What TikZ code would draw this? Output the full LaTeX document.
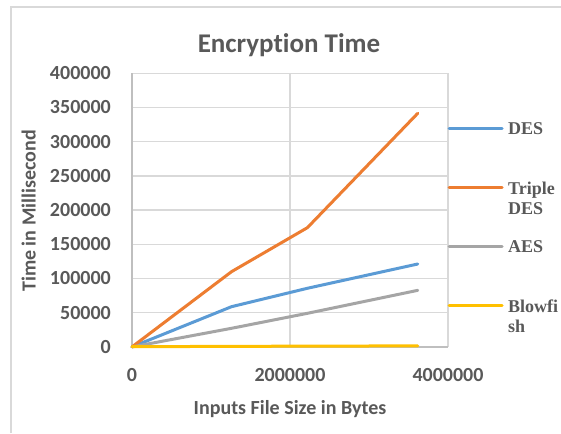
\documentclass[tikz,border=0pt]{standalone}
\usepackage{fontspec}
\newfontfamily\chartfont{Carlito}[BoldFont={Carlito Bold}, Ligatures=CommonOff]
\newfontfamily\legfont{Liberation Serif}
\definecolor{txt}{HTML}{595959}
\definecolor{gridc}{HTML}{D9D9D9}
\definecolor{axisc}{HTML}{BFBFBF}
\definecolor{desc}{HTML}{5B9BD5}
\definecolor{tdesc}{HTML}{ED7D31}
\definecolor{aesc}{HTML}{A5A5A5}
\definecolor{bfc}{HTML}{FFC000}
\tikzset{
  ticklab/.style={inner sep=0pt, text=txt, font=\chartfont\bfseries\fontsize{20}{24}\selectfont},
  axtitle/.style={inner sep=0pt, text=txt, font=\chartfont\bfseries\fontsize{20}{24}\selectfont},
  charttitle/.style={inner sep=0pt, text=txt, font=\chartfont\bfseries\fontsize{27}{31}\selectfont},
  legtext/.style={inner sep=0pt, anchor=base west, text=txt, font=\legfont\bfseries\fontsize{18}{21}\selectfont},
  gridline/.style={draw=gridc, line width=1.3pt},
  axisline/.style={draw=axisc, line width=1.3pt},
  series/.style={line width=3pt, line cap=round, line join=round},
  frameline/.style={draw=gridc, line width=2pt}
}
\begin{document}
\begin{tikzpicture}[x=1pt,y=-1pt]
\useasboundingbox (0,0) rectangle (561,433);
\fill[white] (0,0) rectangle (561,433);
% outer frame
\coordinate (fbl) at (11,433);
\coordinate (ftl) at (11,7);
\coordinate (ftr) at (561,7);
\draw[frameline] (fbl) -- (ftl) -- (ftr);
% grid
\foreach \i in {1,...,8} {
  \draw[gridline] (132,{346.9-34.2*\i}) -- (448,{346.9-34.2*\i});
}
\draw[gridline] (290,73.3) -- (290,346.9);
\draw[gridline] (448,73.3) -- (448,346.9);
\draw[axisline] (132,73.3) -- (132,346.9) -- (448,346.9);
% y tick labels
\foreach \v [count=\i from 0] in {0,50000,100000,150000,200000,250000,300000,350000,400000} {
  \node[ticklab, anchor=east] (yt\i) at (111,{346.9-34.2*\i}) {\v};
}
% x tick labels
\node[ticklab, anchor=base] (xt0) at (132,381.7) {0};
\node[ticklab, anchor=base] (xt1) at (290,381.7) {2000000};
\node[ticklab, anchor=base] (xt2) at (448,381.7) {4000000};
% titles
\node[charttitle, anchor=base] (title) at (289,53) {Encryption Time};
\node[axtitle, anchor=base] (xtitle) at (290,414.3) {Inputs File Size in Bytes};
\node[axtitle, anchor=base, rotate=90] (ytitle) at (35.7,211) {Time in Millisecond};
% data series
\begin{scope}[shift={(132,346.9)}, x=79pt, y=0.684pt]
  \draw[series, desc] (0,0) -- (1.26,58.8) -- (2.22,85.7) -- (3.617,121.2);
  \draw[series, tdesc] (0,0) -- (1.26,110) -- (2.22,174.3) -- (3.617,341.5);
  \draw[series, aesc] (0,0) -- (1.26,27.2) -- (2.22,49.1) -- (3.617,82.7);
  \draw[series, bfc] (0,0.3) -- (1.26,0.8) -- (2.22,1.1) -- (3.617,1.5);
\end{scope}
% legend
\coordinate (l1a) at (449,128.3); \coordinate (l1b) at (502,128.3);
\coordinate (l2a) at (449,187.3); \coordinate (l2b) at (502,187.3);
\coordinate (l3a) at (449,246.7); \coordinate (l3b) at (502,246.7);
\coordinate (l4a) at (449,305.7); \coordinate (l4b) at (502,305.7);
\draw[series, desc] (l1a) -- (l1b);
\draw[series, tdesc] (l2a) -- (l2b);
\draw[series, aesc] (l3a) -- (l3b);
\draw[series, bfc] (l4a) -- (l4b);
\node[legtext] (leg1) at (508,134.5) {DES};
\node[legtext] (leg2a) at (508,194) {Triple};
\node[legtext] (leg2b) at (508,214.5) {DES};
\node[legtext] (leg3) at (508,252.6) {AES};
\node[legtext] (leg4a) at (508,312) {Blowfi};
\node[legtext] (leg4b) at (508,332.5) {sh};
\end{tikzpicture}
\end{document}
